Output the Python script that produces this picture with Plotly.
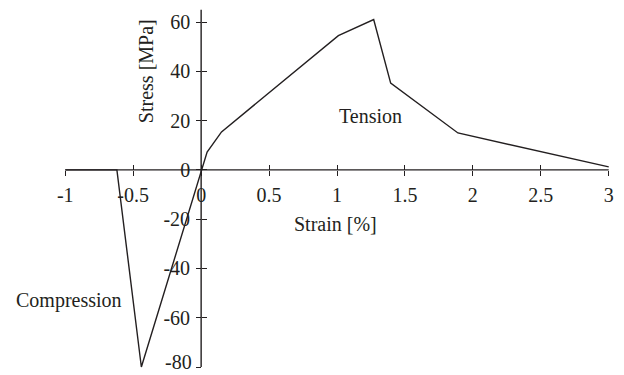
import plotly.graph_objects as go

strain = [-1.0, -0.62, -0.44, 0.0, 0.044, 0.15, 1.01, 1.27, 1.395, 1.89, 3.0]
stress = [0.0, 0.0, -80.0, 0.0, 7.2, 15.4, 54.5, 61.0, 35.2, 15.0, 1.2]

x_ticks = [-1, -0.5, 0, 0.5, 1, 1.5, 2, 2.5, 3]
x_tick_labels = ["-1", "-0.5", "0", "0.5", "1", "1.5", "2", "2.5", "3"]
y_ticks = [-80, -60, -40, -20, 0, 20, 40, 60]
y_tick_labels = ["-80", "-60", "-40", "-20", "0", "20", "40", "60"]

INK = "#231f20"
FONT = dict(family="Liberation Serif, Times New Roman, serif", size=20, color=INK)

fig = go.Figure()
fig.add_trace(go.Scatter(x=strain, y=stress, mode="lines",
                         line=dict(color=INK, width=1.4), hoverinfo="skip",
                         showlegend=False))
fig.add_trace(go.Scatter(x=[0], y=[0], mode="markers", marker=dict(opacity=0),
                         xaxis="x2", yaxis="y2", showlegend=False, hoverinfo="skip"))

xr = [-1.002, 3.002]
yr = [-80.4, 65.3]
xpos = (0 - yr[0]) / (yr[1] - yr[0])
ypos = (0 - xr[0]) / (xr[1] - xr[0])

# bottom tick label drawn as annotation so it stays inside the page
axis_y_labels = [lab if v != y_ticks[0] else "" for v, lab in zip(y_ticks, y_tick_labels)]

common_x = dict(range=xr, showgrid=False, zeroline=False, showline=False,
                tickcolor=INK, tickwidth=1.2, automargin=False,
                ticklen=5, tickmode="array", tickvals=x_ticks,
                anchor="free", position=xpos, fixedrange=True)
common_y = dict(range=yr, showgrid=False, zeroline=False, showline=False,
                tickcolor=INK, tickwidth=1.2, automargin=False,
                ticklen=5, tickmode="array", tickvals=y_ticks,
                anchor="free", position=ypos, fixedrange=True)

fig.update_layout(
    width=624, height=375,
    margin=dict(l=65, r=15, t=9, b=7),
    paper_bgcolor="white", plot_bgcolor="white",
    font=FONT,
    xaxis=dict(**common_x, ticks="outside", ticktext=x_tick_labels,
               tickfont=FONT, ticklabelstandoff=2, ticklabeloverflow="allow"),
    xaxis2=dict(**common_x, ticks="inside", showticklabels=False,
                overlaying="x"),
    yaxis=dict(**common_y, ticks="outside", ticktext=axis_y_labels,
               tickfont=FONT, ticklabelstandoff=2, ticklabeloverflow="allow"),
    yaxis2=dict(**common_y, ticks="inside", showticklabels=False,
                overlaying="y"),
    shapes=[
        dict(type="line", xref="x", yref="y", x0=-1, x1=3, y0=0, y1=0,
             line=dict(color=INK, width=1.4), layer="below"),
        dict(type="line", xref="x", yref="y", x0=0, x1=0, y0=-80, y1=65,
             line=dict(color=INK, width=1.4), layer="below"),
    ],
    annotations=[
        dict(x=0, y=y_ticks[0], xref="x", yref="y", text=y_tick_labels[0],
             showarrow=False, font=FONT, xanchor="right", yanchor="bottom",
             xshift=-7, yshift=-8),
        dict(x=1.25, y=22, xref="x", yref="y", text="Tension", showarrow=False,
             font=FONT, xanchor="center", yanchor="middle"),
        dict(x=-0.97, y=-53, xref="x", yref="y", text="Compression", showarrow=False,
             font=FONT, xanchor="center", yanchor="middle"),
        dict(x=0.99, y=-22, xref="x", yref="y", text="Strain [%]", showarrow=False,
             font=FONT, xanchor="center", yanchor="middle"),
        dict(x=-0.40, y=40, xref="x", yref="y", text="Stress [MPa]", showarrow=False,
             font=FONT, xanchor="center", yanchor="middle", textangle=-90),
    ],
)

fig.write_html("out.html")
